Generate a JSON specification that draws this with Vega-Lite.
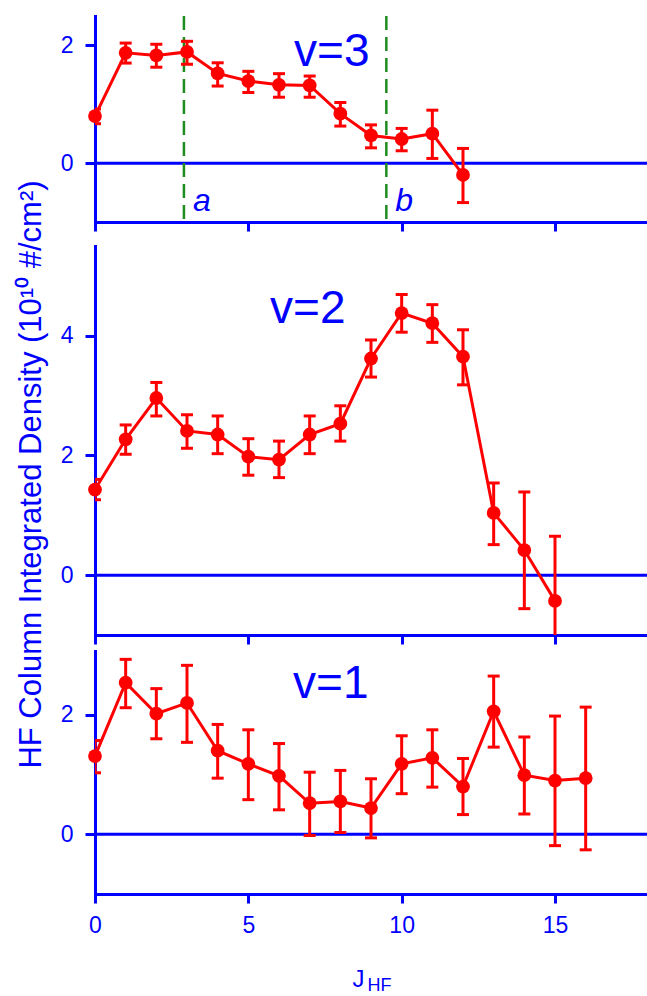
{
  "$schema": "https://vega.github.io/schema/vega-lite/v6.json",
  "padding": {"left": 14, "top": 14, "right": 0, "bottom": 0},
  "background": "white",
  "config": {
    "view": {"stroke": null},
    "font": "Liberation Sans",
    "axis": {
      "domainColor": "#0000FF", "domainWidth": 3, "domainCap": "square",
      "tickColor": "#0000FF", "tickWidth": 3,
      "labelColor": "#0000FF", "titleColor": "#0000FF",
      "labelFont": "Liberation Sans", "titleFont": "Liberation Sans",
      "titleFontWeight": "normal", "labelFontSize": 23, "grid": false,
      "labelFlush": false, "labelOverlap": false, "format": "d"
    },
    "text": {"font": "Liberation Sans"}
  },
  "datasets": {
    "v3": [
      {"J": 0, "val": 0.80, "lo": 0.67, "hi": 0.92},
      {"J": 1, "val": 1.875, "lo": 1.70, "hi": 2.04},
      {"J": 2, "val": 1.83, "lo": 1.63, "hi": 2.02},
      {"J": 3, "val": 1.89, "lo": 1.68, "hi": 2.07},
      {"J": 4, "val": 1.525, "lo": 1.31, "hi": 1.705},
      {"J": 5, "val": 1.395, "lo": 1.20, "hi": 1.56},
      {"J": 6, "val": 1.33, "lo": 1.12, "hi": 1.52},
      {"J": 7, "val": 1.32, "lo": 1.12, "hi": 1.48},
      {"J": 8, "val": 0.84, "lo": 0.63, "hi": 1.03},
      {"J": 9, "val": 0.47, "lo": 0.26, "hi": 0.65},
      {"J": 10, "val": 0.41, "lo": 0.21, "hi": 0.59},
      {"J": 11, "val": 0.50, "lo": 0.08, "hi": 0.90},
      {"J": 12, "val": -0.20, "lo": -0.67, "hi": 0.25}
    ],
    "v2": [
      {"J": 0, "val": 1.43, "lo": 1.26, "hi": 1.60},
      {"J": 1, "val": 2.27, "lo": 2.02, "hi": 2.51},
      {"J": 2, "val": 2.96, "lo": 2.66, "hi": 3.22},
      {"J": 3, "val": 2.41, "lo": 2.12, "hi": 2.68},
      {"J": 4, "val": 2.35, "lo": 2.03, "hi": 2.66},
      {"J": 5, "val": 1.98, "lo": 1.67, "hi": 2.28},
      {"J": 6, "val": 1.93, "lo": 1.63, "hi": 2.24},
      {"J": 7, "val": 2.35, "lo": 2.03, "hi": 2.66},
      {"J": 8, "val": 2.53, "lo": 2.24, "hi": 2.83},
      {"J": 9, "val": 3.62, "lo": 3.31, "hi": 3.93},
      {"J": 10, "val": 4.38, "lo": 4.06, "hi": 4.69},
      {"J": 11, "val": 4.21, "lo": 3.89, "hi": 4.52},
      {"J": 12, "val": 3.65, "lo": 3.18, "hi": 4.10},
      {"J": 13, "val": 1.04, "lo": 0.51, "hi": 1.54},
      {"J": 14, "val": 0.42, "lo": -0.56, "hi": 1.39},
      {"J": 15, "val": -0.43, "lo": -1.50, "hi": 0.65}
    ],
    "v1": [
      {"J": 0, "val": 1.31, "lo": 1.03, "hi": 1.57},
      {"J": 1, "val": 2.54, "lo": 2.12, "hi": 2.93},
      {"J": 2, "val": 2.02, "lo": 1.60, "hi": 2.44},
      {"J": 3, "val": 2.20, "lo": 1.54, "hi": 2.83},
      {"J": 4, "val": 1.40, "lo": 0.94, "hi": 1.84},
      {"J": 5, "val": 1.18, "lo": 0.58, "hi": 1.75},
      {"J": 6, "val": 0.98, "lo": 0.41, "hi": 1.52},
      {"J": 7, "val": 0.52, "lo": -0.02, "hi": 1.04},
      {"J": 8, "val": 0.55, "lo": 0.03, "hi": 1.07},
      {"J": 9, "val": 0.44, "lo": -0.06, "hi": 0.93},
      {"J": 10, "val": 1.18, "lo": 0.68, "hi": 1.65},
      {"J": 11, "val": 1.28, "lo": 0.79, "hi": 1.75},
      {"J": 12, "val": 0.80, "lo": 0.33, "hi": 1.27},
      {"J": 13, "val": 2.06, "lo": 1.46, "hi": 2.65},
      {"J": 14, "val": 0.99, "lo": 0.34, "hi": 1.63},
      {"J": 15, "val": 0.90, "lo": -0.19, "hi": 1.98},
      {"J": 16, "val": 0.94, "lo": -0.26, "hi": 2.13}
    ],
    "markers": [
      {"J": 2.9, "label": "a"},
      {"J": 9.5, "label": "b"}
    ]
  },
  "spacing": 24,
  "bounds": "flush",
  "vconcat": [
    {
      "width": 552, "height": 206,
      "layer": [
        {
          "data": {"values": [{"zero": 0}]},
          "mark": {"type": "rule", "color": "#0000FF", "strokeWidth": 3},
          "encoding": {
            "y": {"field": "zero", "type": "quantitative",
                  "scale": {"domain": [-1, 2.5], "nice": false, "zero": false},
                  "axis": {"values": [0, 2], "tickSize": 10, "labelPadding": 12, "title": null}}
          }
        },
        {
          "data": {"name": "markers"},
          "mark": {"type": "rule", "color": "#1E8C1E", "strokeWidth": 2.5, "strokeDash": [14, 7]},
          "encoding": {
            "x": {"field": "J", "type": "quantitative",
                  "scale": {"domain": [0, 18], "nice": false, "zero": false},
                  "axis": {"values": [0, 5, 10, 15], "tickSize": 9, "labels": false, "title": null}}
          }
        },
        {
          "data": {"name": "markers"},
          "mark": {"type": "text", "color": "#0000FF", "fontSize": 32, "fontStyle": "italic", "align": "left", "baseline": "alphabetic", "dx": 9},
          "encoding": {
            "x": {"field": "J", "type": "quantitative"},
            "y": {"datum": -0.82},
            "text": {"field": "label"}
          }
        },
        {
          "data": {"name": "v3"},
          "mark": {"type": "rule", "color": "#FF0000", "strokeWidth": 3, "clip": true},
          "encoding": {
            "x": {"field": "J", "type": "quantitative"},
            "y": {"field": "lo", "type": "quantitative"},
            "y2": {"field": "hi"}
          }
        },
        {
          "data": {"name": "v3"},
          "mark": {"type": "tick", "orient": "horizontal", "color": "#FF0000", "size": 12, "thickness": 3, "opacity": 1, "clip": true},
          "encoding": {
            "x": {"field": "J", "type": "quantitative"},
            "y": {"field": "lo", "type": "quantitative"}
          }
        },
        {
          "data": {"name": "v3"},
          "mark": {"type": "tick", "orient": "horizontal", "color": "#FF0000", "size": 12, "thickness": 3, "opacity": 1, "clip": true},
          "encoding": {
            "x": {"field": "J", "type": "quantitative"},
            "y": {"field": "hi", "type": "quantitative"}
          }
        },
        {
          "data": {"name": "v3"},
          "mark": {"type": "line", "color": "#FF0000", "strokeWidth": 3},
          "encoding": {
            "x": {"field": "J", "type": "quantitative"},
            "y": {"field": "val", "type": "quantitative"}
          }
        },
        {
          "data": {"name": "v3"},
          "mark": {"type": "circle", "color": "#FF0000", "size": 190, "opacity": 1},
          "encoding": {
            "x": {"field": "J", "type": "quantitative"},
            "y": {"field": "val", "type": "quantitative"}
          }
        },
        {
          "data": {"values": [{"label": "v=3"}]},
          "mark": {"type": "text", "color": "#0000FF", "fontSize": 46, "align": "center", "baseline": "alphabetic"},
          "encoding": {
            "x": {"datum": 7.72},
            "y": {"datum": 1.65},
            "text": {"field": "label"}
          }
        }
      ]
    },
    {
      "spacing": 16,
      "bounds": "flush",
      "vconcat": [
        {
          "width": 552, "height": 389,
          "layer": [
            {
              "data": {"values": [{"zero": 0}]},
              "mark": {"type": "rule", "color": "#0000FF", "strokeWidth": 3},
              "encoding": {
                "y": {"field": "zero", "type": "quantitative",
                      "scale": {"domain": [-1, 5.5], "nice": false, "zero": false},
                      "axis": {"values": [0, 2, 4], "tickSize": 10, "labelPadding": 12,
                               "title": "HF Column Integrated Density (10¹⁰ #/cm²)",
                               "titleFontSize": 31, "titleAngle": -90, "titleAlign": "center",
                               "titleBaseline": "alphabetic", "titleX": -55, "titleY": 228}}
              }
            },
            {
              "data": {"name": "v2"},
              "mark": {"type": "rule", "color": "#FF0000", "strokeWidth": 3, "clip": true},
              "encoding": {
                "x": {"field": "J", "type": "quantitative",
                      "scale": {"domain": [0, 18], "nice": false, "zero": false},
                      "axis": {"values": [0, 5, 10, 15], "tickSize": 9, "labels": false, "title": null}},
                "y": {"field": "lo", "type": "quantitative"},
                "y2": {"field": "hi"}
              }
            },
            {
              "data": {"name": "v2"},
              "mark": {"type": "tick", "orient": "horizontal", "color": "#FF0000", "size": 12, "thickness": 3, "opacity": 1, "clip": true},
              "encoding": {
                "x": {"field": "J", "type": "quantitative"},
                "y": {"field": "lo", "type": "quantitative"}
              }
            },
            {
              "data": {"name": "v2"},
              "mark": {"type": "tick", "orient": "horizontal", "color": "#FF0000", "size": 12, "thickness": 3, "opacity": 1, "clip": true},
              "encoding": {
                "x": {"field": "J", "type": "quantitative"},
                "y": {"field": "hi", "type": "quantitative"}
              }
            },
            {
              "data": {"name": "v2"},
              "mark": {"type": "line", "color": "#FF0000", "strokeWidth": 3},
              "encoding": {
                "x": {"field": "J", "type": "quantitative"},
                "y": {"field": "val", "type": "quantitative"}
              }
            },
            {
              "data": {"name": "v2"},
              "mark": {"type": "circle", "color": "#FF0000", "size": 190, "opacity": 1},
              "encoding": {
                "x": {"field": "J", "type": "quantitative"},
                "y": {"field": "val", "type": "quantitative"}
              }
            },
            {
              "data": {"values": [{"label": "v=2"}]},
              "mark": {"type": "text", "color": "#0000FF", "fontSize": 46, "align": "center", "baseline": "alphabetic"},
              "encoding": {
                "x": {"datum": 6.94},
                "y": {"datum": 4.22},
                "text": {"field": "label"}
              }
            }
          ]
        },
        {
          "width": 552, "height": 243,
          "layer": [
            {
              "data": {"values": [{"zero": 0}]},
              "mark": {"type": "rule", "color": "#0000FF", "strokeWidth": 3},
              "encoding": {
                "y": {"field": "zero", "type": "quantitative",
                      "scale": {"domain": [-1, 3.07], "nice": false, "zero": false},
                      "axis": {"values": [0, 2], "tickSize": 10, "labelPadding": 12, "title": null}}
              }
            },
            {
              "data": {"name": "v1"},
              "mark": {"type": "rule", "color": "#FF0000", "strokeWidth": 3, "clip": true},
              "encoding": {
                "x": {"field": "J", "type": "quantitative",
                      "scale": {"domain": [0, 18], "nice": false, "zero": false},
                      "axis": {"values": [0, 5, 10, 15], "tickSize": 9, "labelPadding": 11,
                               "title": "J", "titleFontSize": 24, "titleX": 263, "titleY": 92,
                               "titleAlign": "center", "titleBaseline": "alphabetic"}},
                "y": {"field": "lo", "type": "quantitative"},
                "y2": {"field": "hi"}
              }
            },
            {
              "data": {"name": "v1"},
              "mark": {"type": "tick", "orient": "horizontal", "color": "#FF0000", "size": 12, "thickness": 3, "opacity": 1, "clip": true},
              "encoding": {
                "x": {"field": "J", "type": "quantitative"},
                "y": {"field": "lo", "type": "quantitative"}
              }
            },
            {
              "data": {"name": "v1"},
              "mark": {"type": "tick", "orient": "horizontal", "color": "#FF0000", "size": 12, "thickness": 3, "opacity": 1, "clip": true},
              "encoding": {
                "x": {"field": "J", "type": "quantitative"},
                "y": {"field": "hi", "type": "quantitative"}
              }
            },
            {
              "data": {"name": "v1"},
              "mark": {"type": "line", "color": "#FF0000", "strokeWidth": 3},
              "encoding": {
                "x": {"field": "J", "type": "quantitative"},
                "y": {"field": "val", "type": "quantitative"}
              }
            },
            {
              "data": {"name": "v1"},
              "mark": {"type": "circle", "color": "#FF0000", "size": 190, "opacity": 1},
              "encoding": {
                "x": {"field": "J", "type": "quantitative"},
                "y": {"field": "val", "type": "quantitative"}
              }
            },
            {
              "data": {"values": [{"label": "v=1"}]},
              "mark": {"type": "text", "color": "#0000FF", "fontSize": 46, "align": "center", "baseline": "alphabetic"},
              "encoding": {
                "x": {"datum": 7.69},
                "y": {"datum": 2.28},
                "text": {"field": "label"}
              }
            },
            {
              "data": {"values": [{"label": "HF"}]},
              "mark": {"type": "text", "color": "#0000FF", "fontSize": 18, "align": "center", "baseline": "alphabetic"},
              "encoding": {
                "x": {"datum": 9.28},
                "y": {"datum": -2.62},
                "text": {"field": "label"}
              }
            }
          ]
        }
      ]
    }
  ]
}
